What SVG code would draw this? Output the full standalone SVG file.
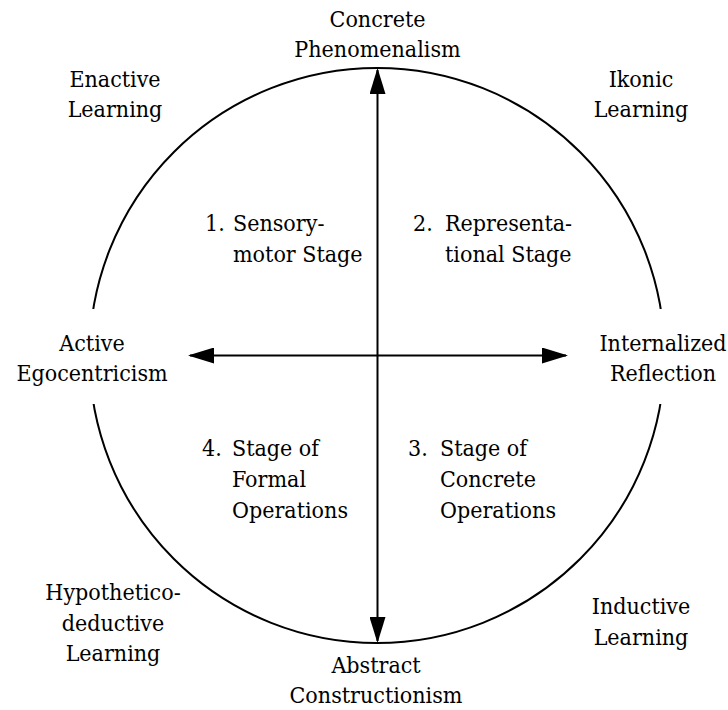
<svg xmlns="http://www.w3.org/2000/svg" width="728" height="710" viewBox="0 0 728 710">
  <style>
    text { font-family: 'DejaVu Serif Condensed', 'DejaVu Serif', serif; font-stretch: condensed; font-size: 23px; fill: #000; }
    .c { text-anchor: middle; }
    .ring { fill: none; stroke: #000; stroke-width: 2; }
    .axis { fill: none; stroke: #000; stroke-width: 2; }
    .gap { fill: #fff; stroke: none; }
  </style>
  <defs>
    <marker id="head" viewBox="0 0 26 16" refX="24" refY="8" markerWidth="26" markerHeight="16" markerUnits="userSpaceOnUse" orient="auto-start-reverse">
      <path d="M0,0 L26,8 L0,16 Z" fill="#000"/>
    </marker>
  </defs>
  <rect width="728" height="710" fill="#fff"/>

  <!-- outer ring, opened where the side labels sit -->
  <g id="ring">
    <circle class="ring" cx="377" cy="355.5" r="287.5"/>
    <rect class="gap" x="78" y="309" width="30" height="95"/>
    <rect class="gap" x="646" y="309" width="30" height="95"/>
  </g>

  <!-- axes -->
  <g id="connectors">
    <line class="axis" x1="377.5" y1="70" x2="377.5" y2="641" marker-start="url(#head)" marker-end="url(#head)"/>
    <line class="axis" x1="190" y1="355.5" x2="566" y2="355.5" marker-start="url(#head)" marker-end="url(#head)"/>
  </g>

  <g id="concrete-phenomenalism">
    <text class="c" x="377.5" y="27">Concrete</text>
    <text class="c" x="377.5" y="57">Phenomenalism</text>
  </g>
  <g id="abstract-constructionism">
    <text class="c" x="376" y="673">Abstract</text>
    <text class="c" x="376" y="703">Constructionism</text>
  </g>
  <g id="active-egocentricism">
    <text class="c" x="92" y="351">Active</text>
    <text class="c" x="92" y="381">Egocentricism</text>
  </g>
  <g id="internalized-reflection">
    <text class="c" x="663" y="351">Internalized</text>
    <text class="c" x="663" y="381">Reflection</text>
  </g>

  <g id="enactive-learning">
    <text class="c" x="115" y="87">Enactive</text>
    <text class="c" x="115" y="117">Learning</text>
  </g>
  <g id="ikonic-learning">
    <text class="c" x="641" y="87">Ikonic</text>
    <text class="c" x="641" y="117">Learning</text>
  </g>
  <g id="hypothetico-deductive-learning">
    <text class="c" x="113" y="600">Hypothetico-</text>
    <text class="c" x="113" y="631">deductive</text>
    <text class="c" x="113" y="661">Learning</text>
  </g>
  <g id="inductive-learning">
    <text class="c" x="641" y="614">Inductive</text>
    <text class="c" x="641" y="645">Learning</text>
  </g>

  <g id="stage-1">
    <text x="205" y="231">1.</text>
    <text x="233" y="231">Sensory-</text>
    <text x="233" y="262">motor Stage</text>
  </g>
  <g id="stage-2">
    <text x="413" y="231">2.</text>
    <text x="445" y="231">Representa-</text>
    <text x="445" y="262">tional Stage</text>
  </g>
  <g id="stage-3">
    <text x="408" y="456">3.</text>
    <text x="440" y="456">Stage of</text>
    <text x="440" y="487">Concrete</text>
    <text x="440" y="518">Operations</text>
  </g>
  <g id="stage-4">
    <text x="202" y="456">4.</text>
    <text x="232" y="456">Stage of</text>
    <text x="232" y="487">Formal</text>
    <text x="232" y="518">Operations</text>
  </g>
</svg>
